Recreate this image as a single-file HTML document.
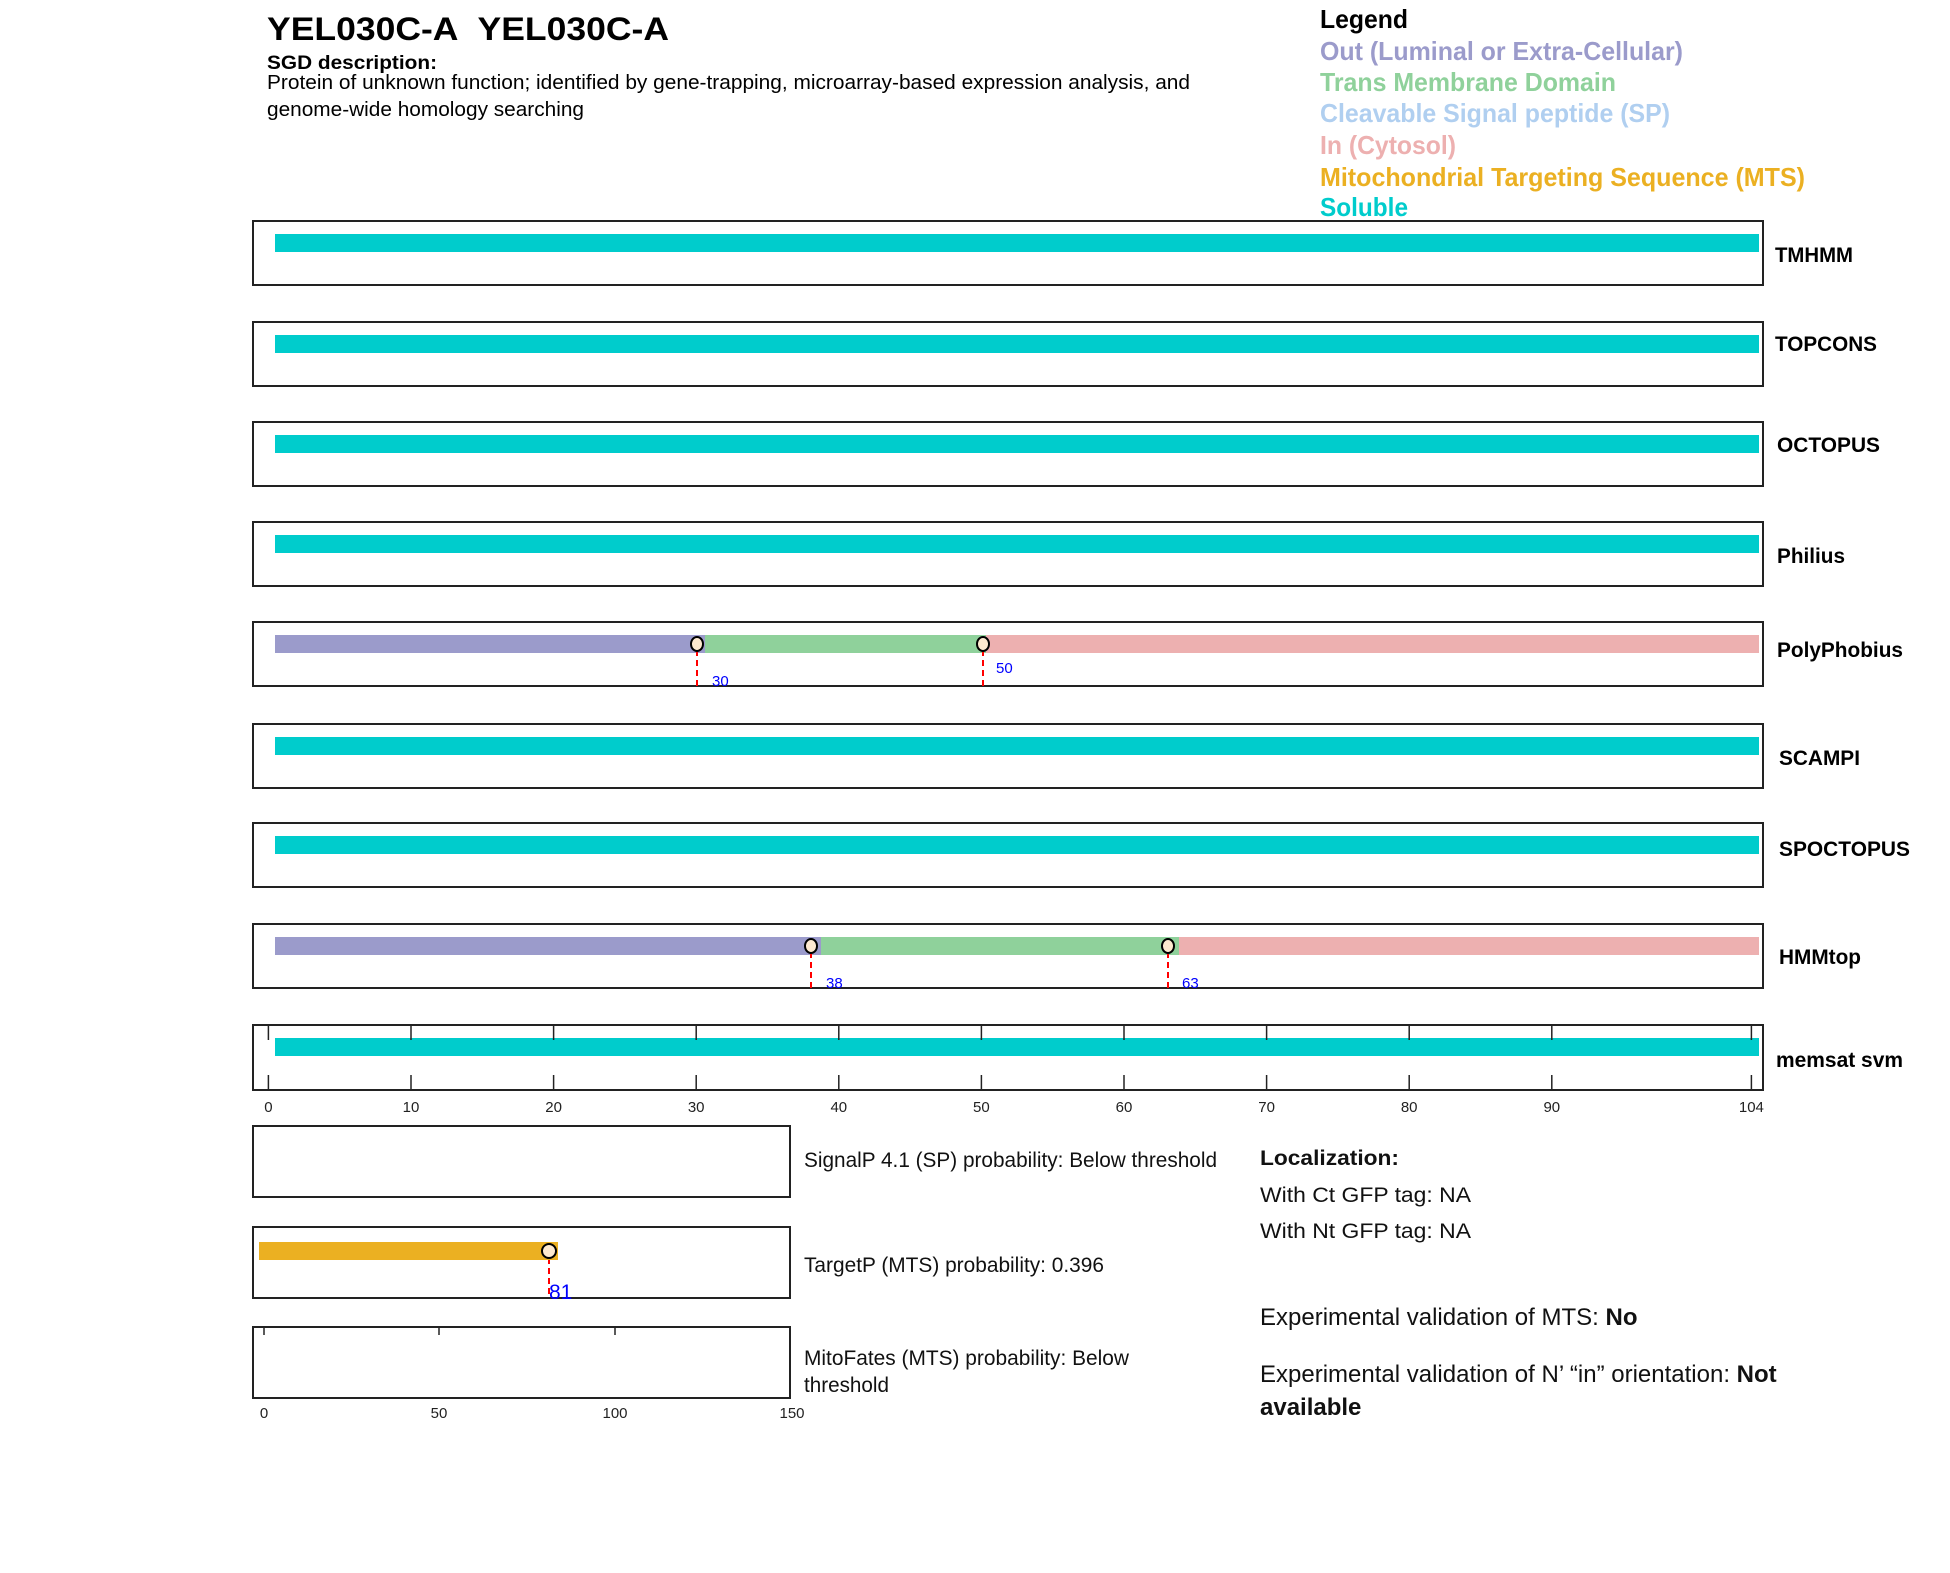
<!DOCTYPE html>
<html><head><meta charset="utf-8"><style>
html,body{margin:0;padding:0;background:#fff;}
svg{display:block;font-family:"Liberation Sans",sans-serif;}
</style></head><body>
<svg width="1950" height="1573" viewBox="0 0 1950 1573" xmlns="http://www.w3.org/2000/svg">
<rect width="1950" height="1573" fill="#fff"/>
<text x="267" y="40" font-size="32" font-weight="bold" textLength="402" lengthAdjust="spacingAndGlyphs">YEL030C-A&#160; YEL030C-A</text>
<text x="267" y="69" font-size="19" font-weight="bold" textLength="170" lengthAdjust="spacingAndGlyphs">SGD description:</text>
<text x="267" y="89" font-size="20" textLength="923" lengthAdjust="spacingAndGlyphs">Protein of unknown function; identified by gene-trapping, microarray-based expression analysis, and</text>
<text x="267" y="116" font-size="20" textLength="317" lengthAdjust="spacingAndGlyphs">genome-wide homology searching</text>

<g font-size="26" font-weight="bold">
<text x="1320" y="28" fill="#000" textLength="88" lengthAdjust="spacingAndGlyphs">Legend</text>
<text x="1320" y="60" fill="#9b9bcb" textLength="363" lengthAdjust="spacingAndGlyphs">Out (Luminal or Extra-Cellular)</text>
<text x="1320" y="91" fill="#8fd19b" textLength="296" lengthAdjust="spacingAndGlyphs">Trans Membrane Domain</text>
<text x="1320" y="122" fill="#b0cff0" textLength="350" lengthAdjust="spacingAndGlyphs">Cleavable Signal peptide (SP)</text>
<text x="1320" y="154" fill="#edb0b0" textLength="136" lengthAdjust="spacingAndGlyphs">In (Cytosol)</text>
<text x="1320" y="186" fill="#ebb022" textLength="485" lengthAdjust="spacingAndGlyphs">Mitochondrial Targeting Sequence (MTS)</text>
<text x="1320" y="216" fill="#00cccc" textLength="88" lengthAdjust="spacingAndGlyphs">Soluble</text>
</g>

<g fill="none" stroke="#222" stroke-width="2">
<rect x="253" y="221" width="1510" height="64"/>
<rect x="253" y="322" width="1510" height="64"/>
<rect x="253" y="422" width="1510" height="64"/>
<rect x="253" y="522" width="1510" height="64"/>
<rect x="253" y="622" width="1510" height="64"/>
<rect x="253" y="724" width="1510" height="64"/>
<rect x="253" y="823" width="1510" height="64"/>
<rect x="253" y="924" width="1510" height="64"/>
<rect x="253" y="1025" width="1510" height="65"/>
<rect x="253" y="1126" width="537" height="71"/>
<rect x="253" y="1227" width="537" height="71"/>
<rect x="253" y="1327" width="537" height="71"/>
</g>

<g fill="#00cccc">
<rect x="275" y="234" width="1484" height="18"/>
<rect x="275" y="335" width="1484" height="18"/>
<rect x="275" y="435" width="1484" height="18"/>
<rect x="275" y="535" width="1484" height="18"/>
<rect x="275" y="737" width="1484" height="18"/>
<rect x="275" y="836" width="1484" height="18"/>
<rect x="275" y="1038" width="1484" height="18"/>
</g>
<rect x="275" y="635" width="430" height="18" fill="#9b9bcb"/>
<rect x="705" y="635" width="281" height="18" fill="#8fd19b"/>
<rect x="986" y="635" width="773" height="18" fill="#edb0b0"/>
<rect x="275" y="937" width="546" height="18" fill="#9b9bcb"/>
<rect x="821" y="937" width="358" height="18" fill="#8fd19b"/>
<rect x="1179" y="937" width="580" height="18" fill="#edb0b0"/>

<g stroke="#f00" stroke-width="2" stroke-dasharray="6,4">
<line x1="697" y1="650" x2="697" y2="686"/>
<line x1="983" y1="650" x2="983" y2="686"/>
<line x1="811" y1="952" x2="811" y2="988"/>
<line x1="1168" y1="952" x2="1168" y2="988"/>
<line x1="549" y1="1258" x2="549" y2="1298"/>
</g>
<g fill="#fde9cf" stroke="#000" stroke-width="2">
<ellipse cx="697" cy="644" rx="6" ry="7"/>
<ellipse cx="983" cy="644" rx="6" ry="7"/>
<ellipse cx="811" cy="946" rx="6" ry="7"/>
<ellipse cx="1168" cy="946" rx="6" ry="7"/>
</g>
<g fill="#00f" font-size="15">
<text x="712" y="686">30</text>
<text x="996" y="673">50</text>
<text x="826" y="988">38</text>
<text x="1182" y="988">63</text>
</g>
<rect x="259" y="1242" width="299" height="18" fill="#ebb022"/>
<ellipse cx="549" cy="1251" rx="7" ry="7" fill="#fde9cf" stroke="#000" stroke-width="2"/>
<text x="549" y="1299" fill="#00f" font-size="21">81</text>

<g font-size="21" font-weight="bold">
<text x="1775" y="262" textLength="78" lengthAdjust="spacingAndGlyphs">TMHMM</text>
<text x="1775" y="351" textLength="102" lengthAdjust="spacingAndGlyphs">TOPCONS</text>
<text x="1777" y="452" textLength="103" lengthAdjust="spacingAndGlyphs">OCTOPUS</text>
<text x="1777" y="563" textLength="68" lengthAdjust="spacingAndGlyphs">Philius</text>
<text x="1777" y="657" textLength="126" lengthAdjust="spacingAndGlyphs">PolyPhobius</text>
<text x="1779" y="765" textLength="81" lengthAdjust="spacingAndGlyphs">SCAMPI</text>
<text x="1779" y="856" textLength="131" lengthAdjust="spacingAndGlyphs">SPOCTOPUS</text>
<text x="1779" y="964" textLength="82" lengthAdjust="spacingAndGlyphs">HMMtop</text>
<text x="1776" y="1067" textLength="127" lengthAdjust="spacingAndGlyphs">memsat svm</text>
</g>

<g stroke="#222" stroke-width="1.5">
<line x1="268.4" y1="1025" x2="268.4" y2="1040"/><line x1="268.4" y1="1075" x2="268.4" y2="1090"/>
<line x1="411" y1="1025" x2="411" y2="1040"/><line x1="411" y1="1075" x2="411" y2="1090"/>
<line x1="553.6" y1="1025" x2="553.6" y2="1040"/><line x1="553.6" y1="1075" x2="553.6" y2="1090"/>
<line x1="696.2" y1="1025" x2="696.2" y2="1040"/><line x1="696.2" y1="1075" x2="696.2" y2="1090"/>
<line x1="838.8" y1="1025" x2="838.8" y2="1040"/><line x1="838.8" y1="1075" x2="838.8" y2="1090"/>
<line x1="981.4" y1="1025" x2="981.4" y2="1040"/><line x1="981.4" y1="1075" x2="981.4" y2="1090"/>
<line x1="1124" y1="1025" x2="1124" y2="1040"/><line x1="1124" y1="1075" x2="1124" y2="1090"/>
<line x1="1266.6" y1="1025" x2="1266.6" y2="1040"/><line x1="1266.6" y1="1075" x2="1266.6" y2="1090"/>
<line x1="1409.2" y1="1025" x2="1409.2" y2="1040"/><line x1="1409.2" y1="1075" x2="1409.2" y2="1090"/>
<line x1="1551.8" y1="1025" x2="1551.8" y2="1040"/><line x1="1551.8" y1="1075" x2="1551.8" y2="1090"/>
<line x1="1751.4" y1="1025" x2="1751.4" y2="1040"/><line x1="1751.4" y1="1075" x2="1751.4" y2="1090"/>
<line x1="264" y1="1327" x2="264" y2="1335"/>
<line x1="439" y1="1327" x2="439" y2="1335"/>
<line x1="615" y1="1327" x2="615" y2="1335"/>
</g>
<g font-size="15" text-anchor="middle" fill="#222">
<text x="268.4" y="1112">0</text><text x="411" y="1112">10</text><text x="553.6" y="1112">20</text>
<text x="696.2" y="1112">30</text><text x="838.8" y="1112">40</text><text x="981.4" y="1112">50</text>
<text x="1124" y="1112">60</text><text x="1266.6" y="1112">70</text><text x="1409.2" y="1112">80</text>
<text x="1551.8" y="1112">90</text><text x="1751.4" y="1112">104</text>
<text x="264" y="1418">0</text><text x="439" y="1418">50</text><text x="615" y="1418">100</text><text x="792" y="1418">150</text>
</g>

<g font-size="21" fill="#111">
<text x="804" y="1167" textLength="413" lengthAdjust="spacingAndGlyphs">SignalP 4.1 (SP) probability: Below threshold</text>
<text x="804" y="1272" textLength="300" lengthAdjust="spacingAndGlyphs">TargetP (MTS) probability: 0.396</text>
<text x="804" y="1365" textLength="325" lengthAdjust="spacingAndGlyphs">MitoFates (MTS) probability: Below</text>
<text x="804" y="1392" textLength="85" lengthAdjust="spacingAndGlyphs">threshold</text>
<text x="1260" y="1165" font-weight="bold" textLength="139" lengthAdjust="spacingAndGlyphs">Localization:</text>
<text x="1260" y="1202" textLength="211" lengthAdjust="spacingAndGlyphs">With Ct GFP tag: NA</text>
<text x="1260" y="1238" textLength="211" lengthAdjust="spacingAndGlyphs">With Nt GFP tag: NA</text>
</g>
<g font-size="24" fill="#111">
<text x="1260" y="1325">Experimental validation of MTS: <tspan font-weight="bold">No</tspan></text>
<text x="1260" y="1382">Experimental validation of N’ “in” orientation: <tspan font-weight="bold">Not</tspan></text>
<text x="1260" y="1415" font-weight="bold">available</text>
</g>
</svg>
</body></html>
